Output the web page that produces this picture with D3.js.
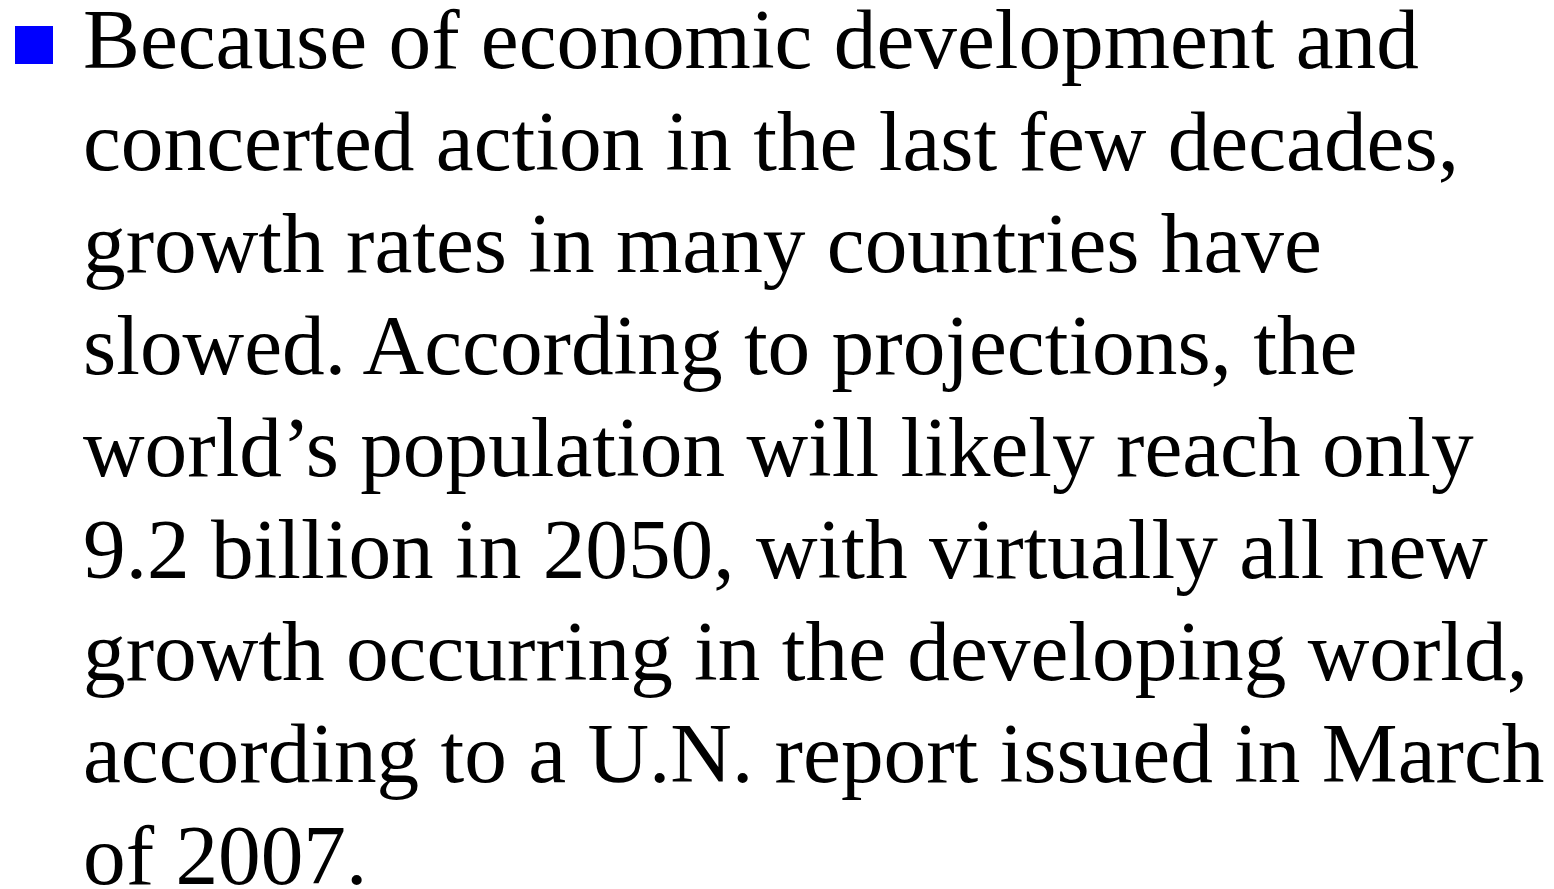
<!DOCTYPE html>
<html>
<head>
<meta charset="utf-8">
<script src="https://cdn.jsdelivr.net/npm/d3@7"></script>
<style>
  html, body { margin: 0; padding: 0; background: #fff; overflow: hidden; }
</style>
</head>
<body>
<div id="slide"></div>
<script>
var lines = [
  "Because of economic development and",
  "concerted action in the last few decades,",
  "growth rates in many countries have",
  "slowed. According to projections, the",
  "world\u2019s population will likely reach only",
  "9.2 billion in 2050, with virtually all new",
  "growth occurring in the developing world,",
  "according to a U.N. report issued in March",
  "of 2007."
];

var width = 1554,
  height = 889;

var svg = d3.select('#slide').append('svg')
  .attr('width', width)
  .attr('height', height);

// baseline of each line
var y = d3.scaleLinear().domain([0, lines.length - 1]).range([68, 884]);

// bullet
svg.append('rect')
  .attr('x', 15)
  .attr('y', 26)
  .attr('width', 38)
  .attr('height', 38)
  .attr('fill', '#0000ff');

svg.append('g').selectAll('text')
  .data(lines)
  .enter().append('text')
  .attr('x', 83)
  .attr('y', function(d, i) { return y(i); })
  .attr('font-family', '"Liberation Serif", "Times New Roman", serif')
  .attr('font-size', 85.3)
  .attr('fill', '#000')
  .text(function(d) { return d; });
</script>
</body>
</html>
